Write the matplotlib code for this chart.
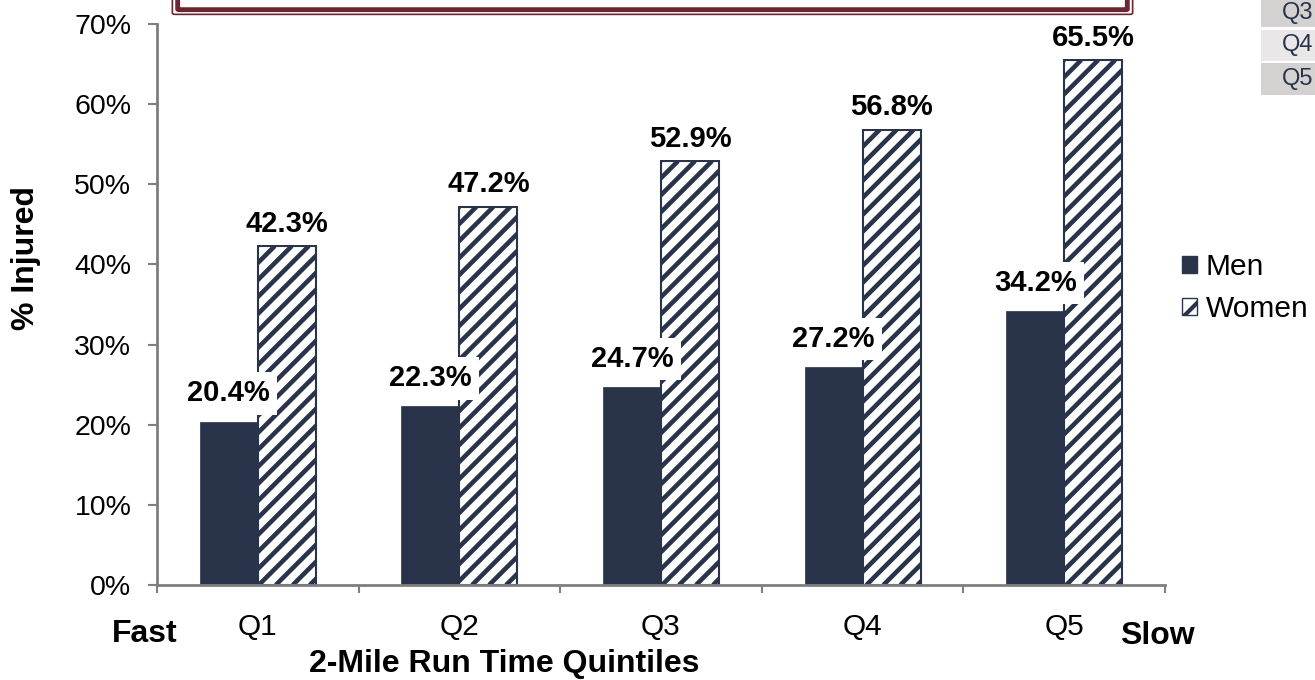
import matplotlib
matplotlib.use("Agg")
import matplotlib.pyplot as plt
import numpy as np
from matplotlib.patches import Rectangle, FancyBboxPatch, Patch
from matplotlib.collections import LineCollection
from matplotlib.transforms import IdentityTransform

plt.rcParams['font.family'] = ['Liberation Sans', 'DejaVu Sans']
plt.rcParams['hatch.linewidth'] = 3.0

# injury rate by 2-mile run time quintile
quintiles = ['Q1', 'Q2', 'Q3', 'Q4', 'Q5']
men = [20.4, 22.3, 24.7, 27.2, 34.2]
women = [42.3, 47.2, 52.9, 56.8, 65.5]
side_cells = ['Q3', 'Q4', 'Q5']

NAVY = '#29344A'
GRAY = '#7F7F7F'
W, H = 1315, 680

fig = plt.figure(figsize=(W / 100, H / 100), dpi=100)
ax = fig.add_axes([157 / W, 1 - 585 / H, (1165 - 157) / W, (585 - 24) / H])
ax.set_xlim(-0.5, 4.5)
ax.set_ylim(0, 70)

x = np.arange(len(quintiles))
bw = 0.288
ax.bar(x - bw / 2, men, bw, color=NAVY, edgecolor=NAVY, linewidth=0.5, zorder=2)
wbars = ax.bar(x + bw / 2, women, bw, color='white', edgecolor='none', zorder=2)

# diagonal stripes inside the women bars, 45 degrees in pixel space
period = 17
for rect in wbars:
    x0, y0 = ax.transData.transform((rect.get_x(), 0))
    x1, y1 = ax.transData.transform((rect.get_x() + rect.get_width(), rect.get_height()))
    h = y1 - y0
    segs = [[(x0 + o, y0), (x0 + o + h, y1)] for o in np.arange(-h, x1 - x0 + period, period)]
    lc = LineCollection(segs, colors=NAVY, linewidths=3.3, transform=IdentityTransform(),
                        zorder=2.1)
    ax.add_collection(lc, autolim=False)
    lc.set_clip_path(rect.get_path(), rect.get_transform())
ax.bar(x + bw / 2, women, bw, fill=False, edgecolor=NAVY, linewidth=1.5, zorder=2.2)

lab = dict(ha='center', va='center', fontsize=21, fontweight='bold', zorder=5,
           bbox=dict(boxstyle='square,pad=0.25', fc='white', ec='none'))
for i in range(len(quintiles)):
    ax.text(x[i] - bw / 2, men[i] + 3.5, f'{men[i]:.1f}%', **lab)
    ax.text(x[i] + bw / 2, women[i] + 2.8, f'{women[i]:.1f}%', **lab)

ax.set_yticks(np.arange(0, 71, 10))
ax.set_yticklabels([f'{v}%' for v in range(0, 71, 10)], fontsize=20.5)
ax.set_xticks(x)
ax.set_xticklabels(quintiles, fontsize=21.5)
ax.set_xticks(np.arange(-0.5, 5, 1), minor=True)
ax.tick_params(axis='x', which='major', length=0, pad=20)
ax.tick_params(axis='x', which='minor', length=6, width=1.5, color=GRAY)
ax.tick_params(axis='y', length=6.5, width=1.5, color=GRAY, pad=12)
for s in ['top', 'right']:
    ax.spines[s].set_visible(False)
for s in ['left', 'bottom']:
    ax.spines[s].set_color(GRAY)
    ax.spines[s].set_linewidth(2)

title_font = dict(ha='center', va='center', fontsize=23, fontweight='bold')
fig.text(145 / W, 1 - 634 / H, 'Fast', **title_font)
fig.text(1157 / W, 1 - 636 / H, 'Slow', **title_font)
fig.text(504 / W, 1 - 664 / H, '2-Mile Run Time Quintiles', **title_font)
fig.text(26 / W, 1 - 258 / H, '% Injured', rotation=90, **title_font)

handles = [Patch(fc=NAVY, ec=NAVY, label='Men'),
           Patch(fc='white', ec=NAVY, hatch='/', label='Women')]
ax.legend(handles=handles, loc='center left', bbox_to_anchor=(1182 / W, 1 - 288 / H),
          bbox_transform=fig.transFigure, frameon=False, fontsize=21.5,
          handlelength=0.5, handleheight=0.5, handletextpad=0.3, labelspacing=0.45,
          borderpad=0, borderaxespad=0)

# framed banner cut off at the top edge
fig.patches.append(FancyBboxPatch((175 / W, 1 - 13 / H), (1130 - 175) / W, 40 / H,
                                  boxstyle='round,pad=0.002', transform=fig.transFigure,
                                  fc='white', ec='#6B2530', lw=1.2))
fig.patches.append(FancyBboxPatch((179 / W, 1 - 9 / H), (1126 - 179) / W, 40 / H,
                                  boxstyle='round,pad=0.001', transform=fig.transFigure,
                                  fc='white', ec='#6B2530', lw=3.5))

# cells of a table at the right edge
cell_rows = [(0, 27, '#D4D1D1'), (30, 61, '#E9E7E8'), (63, 95, '#D4D1D1')]
for name, (y0, y1, c) in zip(side_cells, cell_rows):
    fig.patches.append(Rectangle((1261 / W, 1 - y1 / H), 60 / W, (y1 - y0) / H,
                                 transform=fig.transFigure, fc=c, ec='none'))
    fig.text(1313 / W, 1 - (y0 + y1) / 2 / H, name, ha='right', va='center',
             fontsize=17, color=NAVY)

fig.savefig('out.png', dpi=100)
